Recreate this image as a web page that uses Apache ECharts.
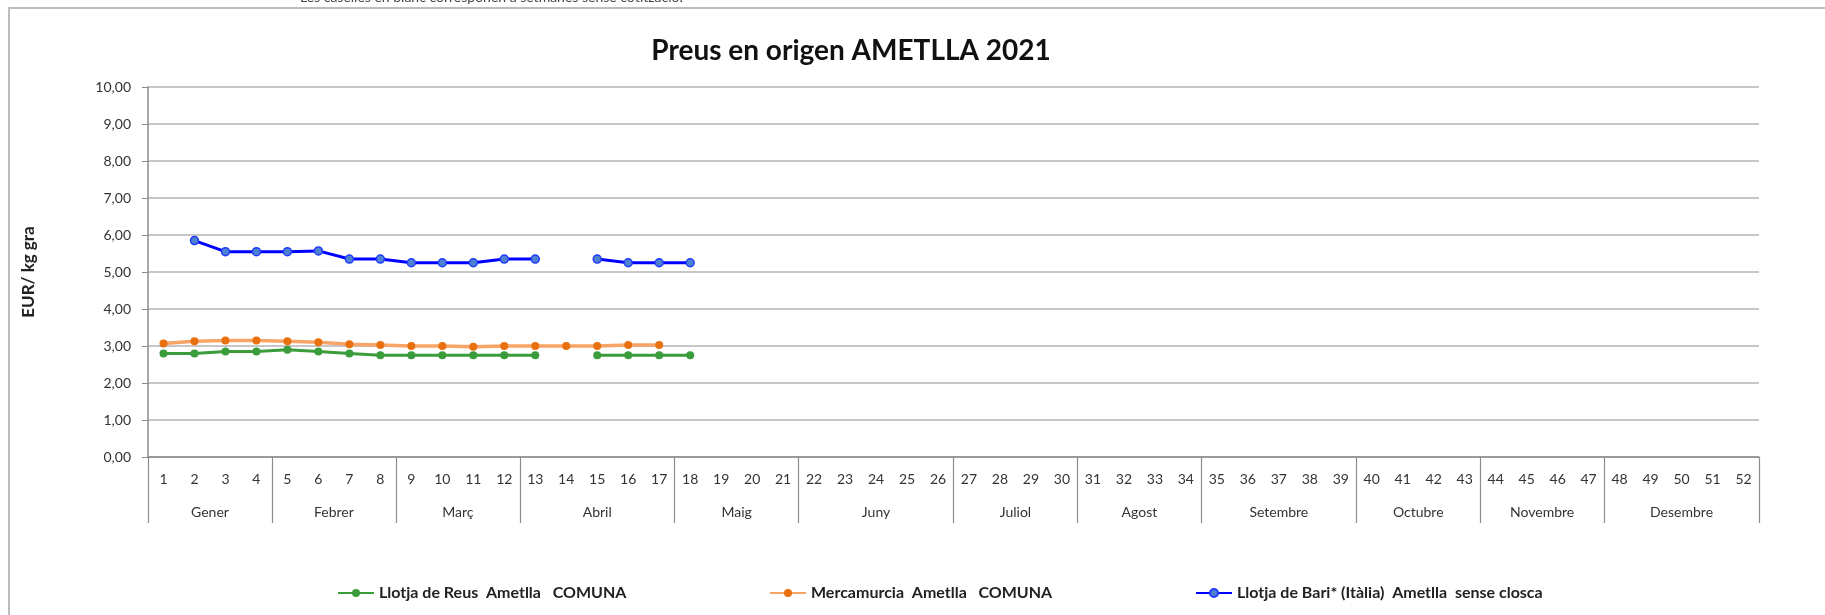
<!DOCTYPE html>
<html>
<head>
<meta charset="utf-8">
<script src="https://cdn.jsdelivr.net/npm/echarts@6/dist/echarts.min.js"></script>
<style>
  html, body { margin: 0; padding: 0; background: #fff; }
  #chart { width: 1825px; height: 615px; }
</style>
</head>
<body>
<div id="chart"></div>
<script>
const weeks = [];
for (let i = 1; i <= 52; i++) weeks.push(String(i));

const months = ['Gener', 'Febrer', 'Març', 'Abril', 'Maig', 'Juny', 'Juliol', 'Agost', 'Setembre', 'Octubre', 'Novembre', 'Desembre'];
const monthWeeks = [4, 4, 4, 5, 4, 5, 4, 4, 5, 4, 4, 5];

// weekly prices, EUR/kg gra (null = week without quote)
const reus = [2.80, 2.80, 2.85, 2.85, 2.90, 2.85, 2.80, 2.75, 2.75, 2.75, 2.75, 2.75, 2.75, null, 2.75, 2.75, 2.75, 2.75];
const murcia = [3.07, 3.13, 3.15, 3.15, 3.13, 3.10, 3.05, 3.03, 3.00, 3.00, 2.98, 3.00, 3.00, 3.00, 3.00, 3.03, 3.03];
const bari = [null, 5.85, 5.55, 5.55, 5.55, 5.57, 5.35, 5.35, 5.25, 5.25, 5.25, 5.35, 5.35, null, 5.35, 5.25, 5.25, 5.25];

const names = ['Llotja de Reus  Ametlla   COMUNA', 'Mercamurcia  Ametlla   COMUNA', 'Llotja de Bari* (Itàlia)  Ametlla  sense closca'];

function pad(arr) {
    const out = arr.slice();
    while (out.length < 52) out.push(null);
    return out;
}

// month boundaries and centres, in weeks
const bounds = [0];
const centres = [];
monthWeeks.forEach(n => {
    const start = bounds[bounds.length - 1];
    centres.push(start + n / 2);
    bounds.push(start + n);
});

const font = 'Lato, "Open Sans", sans-serif';
const chart = echarts.init(document.getElementById('chart'));

const legendBase = {
    top: 580,
    itemWidth: 36,
    itemHeight: 10,
    textStyle: { fontFamily: font, fontWeight: 'bold', fontSize: 16, color: '#222' }
};

const options = {
    animation: false,
    title: {
        text: 'Preus en origen AMETLLA 2021',
        left: 846,
        top: 32,
        textAlign: 'center',
        textStyle: { fontFamily: font, fontWeight: 'bold', fontSize: 28, color: '#111' }
    },
    graphic: [
        {
            type: 'rect',
            shape: { x: 9, y: 8, width: 1860, height: 660 },
            style: { fill: 'none', stroke: '#bdbdbd', lineWidth: 2 }
        },
        {
            type: 'text',
            x: 300,
            y: -10,
            style: { text: 'Les caselles en blanc corresponen a setmanes sense cotització.', font: '14px ' + font, fill: '#444' }
        }
    ],
    legend: [
        Object.assign({ left: 332, data: [names[0]] }, legendBase),
        Object.assign({ left: 764, data: [names[1]] }, legendBase),
        Object.assign({ left: 1190, data: [names[2]] }, legendBase)
    ],
    grid: { left: 148, right: 66, top: 87, bottom: 158 },
    xAxis: [
        {
            type: 'category',
            data: weeks,
            boundaryGap: true,
            axisLine: { lineStyle: { color: '#8c8c8c', width: 1.5 } },
            axisTick: { interval: 0, length: 33, lineStyle: { color: '#8c8c8c', width: 1.2 } },
            axisLabel: { interval: 0, margin: 15, fontFamily: font, fontSize: 14, color: '#333' },
            splitLine: { show: false }
        },
        {
            type: 'value',
            min: 0,
            max: 52,
            position: 'bottom',
            axisLine: { show: false },
            axisTick: { customValues: bounds, length: 66, lineStyle: { color: '#8c8c8c', width: 1.2 } },
            axisLabel: {
                customValues: centres,
                margin: 48,
                fontFamily: font,
                fontSize: 14,
                color: '#333',
                formatter: v => months[centres.indexOf(v)] || ''
            },
            splitLine: { show: false }
        }
    ],
    yAxis: {
        type: 'value',
        min: 0,
        max: 10,
        interval: 1,
        name: 'EUR/ kg gra',
        nameLocation: 'middle',
        nameRotate: 90,
        nameGap: 111,
        nameTextStyle: { fontFamily: font, fontWeight: 'bold', fontSize: 17, color: '#222' },
        axisLine: { show: true, lineStyle: { color: '#8c8c8c', width: 1.5 } },
        axisTick: { show: true, length: 6, lineStyle: { color: '#8c8c8c' } },
        axisLabel: {
            margin: 17,
            fontFamily: font,
            fontSize: 14,
            color: '#333',
            formatter: v => v.toFixed(2).replace('.', ',')
        },
        splitLine: { lineStyle: { color: '#b5b5b5', width: 1.5 } }
    },
    series: [
        {
            name: names[0],
            type: 'line',
            data: pad(reus),
            symbol: 'circle',
            symbolSize: 8,
            lineStyle: { color: '#3b9c3b', width: 3 },
            itemStyle: { color: '#3b9c3b' }
        },
        {
            name: names[1],
            type: 'line',
            data: pad(murcia),
            symbol: 'circle',
            symbolSize: 8,
            lineStyle: { color: '#f9a467', width: 3.5 },
            itemStyle: { color: '#e8700e' }
        },
        {
            name: names[2],
            type: 'line',
            data: pad(bari),
            symbol: 'circle',
            symbolSize: 8,
            lineStyle: { color: '#0000ff', width: 3 },
            itemStyle: { color: '#4f81d0', borderColor: '#1f3cff', borderWidth: 1.5 }
        }
    ]
};

chart.setOption(options);
new ResizeObserver(() => chart.resize()).observe(document.getElementById('chart'));
</script>
</body>
</html>
